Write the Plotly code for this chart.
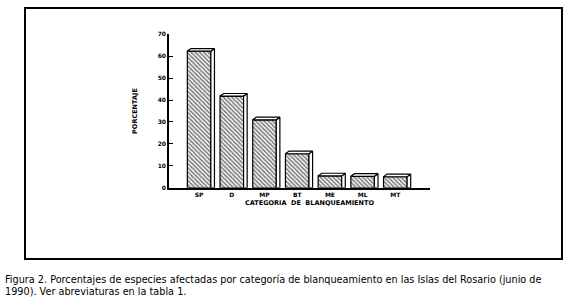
import plotly.graph_objects as go

categories = ["SP", "D", "MP", "BT", "ME", "ML", "MT"]
values = [62.3, 41.8, 31.0, 15.5, 5.4, 5.2, 5.0]
y_ticks = [0, 10, 20, 30, 40, 50, 60, 70]

W, H = 579, 308
bar_w = 0.72
dx, dy = 0.11, 1.2  # 3D depth offsets (category units, percent units)

fig = go.Figure()

xs = list(range(len(categories)))
fig.add_trace(go.Bar(
    x=xs, y=values, width=bar_w,
    marker=dict(color="white", line=dict(color="black", width=1.2),
                pattern=dict(shape="\\", size=3, solidity=0.55,
                             fgcolor="black", bgcolor="white")),
    showlegend=False, hoverinfo="skip"))

# 3D side and top faces derived from the data values
for i, v in enumerate(values):
    l, r = i - bar_w / 2, i + bar_w / 2
    fig.add_trace(go.Scatter(
        x=[r, r + dx, r + dx, r, r], y=[0, 0, v + dy, v, 0],
        mode="lines", fill="toself", fillcolor="white",
        line=dict(color="black", width=1.2), showlegend=False, hoverinfo="skip"))
    fig.add_trace(go.Scatter(
        x=[l, l + dx, r + dx, r, l], y=[v, v + dy, v + dy, v, v],
        mode="lines", fill="toself", fillcolor="white",
        line=dict(color="black", width=1.2), showlegend=False, hoverinfo="skip"))

axis_font = dict(family="DejaVu Sans", size=6, color="black", weight="bold")
title_font = dict(family="DejaVu Sans", size=6.5, color="black", weight="bold")
cap_font = dict(family="DejaVu Sans", size=9.7, color="black")

fig.update_layout(
    width=W, height=H,
    margin=dict(l=0, r=0, t=0, b=0),
    paper_bgcolor="white", plot_bgcolor="white",
    xaxis=dict(domain=[169 / W, 430 / W], range=[-0.92, 7.06],
               tickmode="array", tickvals=xs, ticktext=categories,
               showline=True, linecolor="black", linewidth=1.5,
               ticks="", showgrid=False, zeroline=False,
               tickfont=axis_font),
    yaxis=dict(domain=[1 - 188 / H, 1 - 31 / H], range=[0, 70],
               tickmode="array", tickvals=y_ticks,
               showline=True, linecolor="black", linewidth=1.5,
               ticks="inside", ticklen=4, tickwidth=1.3, tickcolor="black",
               showgrid=False, zeroline=False,
               tickfont=axis_font,
               title=dict(text="PORCENTAJE", font=title_font, standoff=19)),
    shapes=[dict(type="rect", xref="paper", yref="paper",
                 x0=25 / W, x1=562 / W, y0=1 - 261 / H, y1=1 - 4 / H,
                 line=dict(color="black", width=2))],
    annotations=[
        dict(text="CATEGORIA  DE  BLANQUEAMIENTO",
             xref="paper", yref="paper", x=309 / W, y=1 - 204 / H, xanchor="center", yanchor="middle",
             showarrow=False, font=title_font),
        dict(text="Figura 2. Porcentajes de especies afectadas por categoría de blanqueamiento en las Islas del Rosario (junio de",
             xref="paper", yref="paper", x=3 / W, y=1 - 282.3 / H, xanchor="left", yanchor="middle",
             showarrow=False, font=cap_font),
        dict(text="1990). Ver abreviaturas en la tabla 1.",
             xref="paper", yref="paper", x=3 / W, y=1 - 294 / H, xanchor="left", yanchor="middle",
             showarrow=False, font=cap_font),
    ],
)

fig.write_html("out.html", config={"displayModeBar": False},
               post_script="document.body.style.margin='0';")
